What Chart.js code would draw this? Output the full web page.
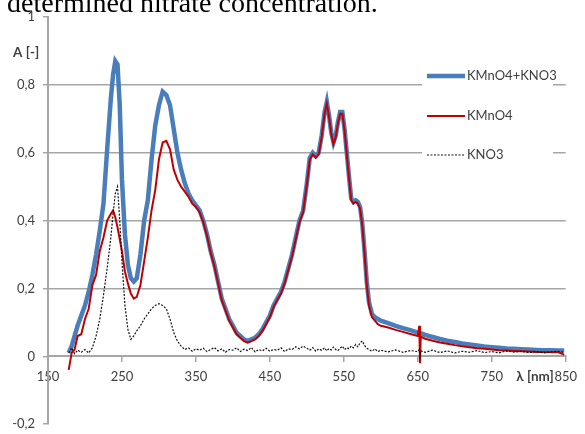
<!DOCTYPE html>
<html>
<head>
<meta charset="utf-8">
<script src="https://cdn.jsdelivr.net/npm/chart.js"></script>
<style>
  html, body { margin:0; padding:0; background:#fff; overflow:hidden; width:585px; height:434px; }
  #wrap { position:relative; width:585px; height:440px; }
  #hdr { position:absolute; left:7px; top:-11px; font-family:"Liberation Serif", serif; font-size:28px; line-height:28px; color:#000; white-space:nowrap; z-index:2; }
  canvas { position:absolute; left:0; top:0; }
</style>
</head>
<body>
<div id="wrap">
  <div id="hdr">determined nitrate concentration.</div>
  <canvas id="c" width="585" height="440"></canvas>
</div>
<script>
// ---- data ----
const seriesNames = ["KMnO4+KNO3", "KMnO4", "KNO3"];
const yTickLabels = ["-0,2", "0", "0,2", "0,4", "0,6", "0,8", "1"];
const xTickLabels = ["150", "250", "350", "450", "550", "650", "750", "850"];
const yTitle = "A [-]";
const xTitle = "λ [nm]";

const wavelengths = [
  178, 182, 186, 190, 195, 200, 205, 210, 215, 220,
  225, 230, 235, 238, 241, 244, 247, 250, 254, 258,
  262, 266, 270, 275, 280, 285, 290, 295, 300, 305,
  310, 315, 320, 325, 330, 335, 340, 345, 350, 355,
  360, 365, 370, 375, 380, 385, 390, 395, 400, 405,
  410, 415, 420, 425, 430, 435, 440, 445, 450, 455,
  460, 465, 470, 475, 480, 485, 490, 495, 500, 504,
  508, 512, 516, 520, 524, 527, 530, 533, 536, 539,
  542, 545, 548, 551, 554, 557, 560, 563, 566, 569,
  572, 575, 578, 581, 584, 588, 592, 596, 600, 610,
  620, 630, 640, 650, 652, 653, 654, 660, 670, 680,
  690, 700, 710, 720, 730, 740, 750, 760, 770, 780,
  790, 800, 810, 820, 830, 840, 848
];

const mixValues = [
  0.01, 0.03, 0.06, 0.09, 0.12, 0.15, 0.19, 0.24, 0.30, 0.37,
  0.45, 0.61, 0.76, 0.83, 0.87, 0.86, 0.74, 0.52, 0.36, 0.27,
  0.23, 0.22, 0.23, 0.30, 0.40, 0.46, 0.58, 0.68, 0.74, 0.78,
  0.77, 0.74, 0.67, 0.60, 0.55, 0.51, 0.48, 0.46, 0.445, 0.43,
  0.40, 0.36, 0.31, 0.27, 0.22, 0.17, 0.14, 0.11, 0.09, 0.07,
  0.06, 0.05, 0.045, 0.05, 0.055, 0.065, 0.08, 0.10, 0.12, 0.15,
  0.17, 0.19, 0.22, 0.26, 0.30, 0.35, 0.40, 0.43, 0.51, 0.585,
  0.60, 0.59, 0.60, 0.65, 0.72, 0.75, 0.71, 0.66, 0.63, 0.65,
  0.69, 0.72, 0.72, 0.67, 0.60, 0.53, 0.465, 0.455, 0.46, 0.455,
  0.44, 0.39, 0.31, 0.22, 0.16, 0.125, 0.115, 0.11, 0.105, 0.098,
  0.09, 0.083, 0.077, 0.07, 0.069, 0.069, 0.068, 0.063, 0.057, 0.051,
  0.046, 0.042, 0.038, 0.035, 0.032, 0.029, 0.027, 0.025, 0.023, 0.022,
  0.021, 0.02, 0.019, 0.018, 0.018, 0.017, 0.017
];

const kmno4Values = [
  -0.04, 0.01, 0.02, 0.06, 0.065, 0.11, 0.14, 0.21, 0.24, 0.31,
  0.35, 0.40, 0.42, 0.43, 0.41, 0.38, 0.345, 0.31, 0.25, 0.215,
  0.185, 0.17, 0.175, 0.21, 0.28, 0.35, 0.43, 0.49, 0.58, 0.63,
  0.635, 0.61, 0.55, 0.52, 0.50, 0.485, 0.47, 0.45, 0.44, 0.425,
  0.395, 0.355, 0.305, 0.265, 0.215, 0.165, 0.135, 0.105, 0.085, 0.065,
  0.055, 0.045, 0.04, 0.045, 0.05, 0.06, 0.075, 0.095, 0.115, 0.145,
  0.165, 0.185, 0.215, 0.255, 0.295, 0.345, 0.395, 0.425, 0.505, 0.58,
  0.595, 0.585, 0.595, 0.645, 0.715, 0.745, 0.705, 0.655, 0.625, 0.645,
  0.685, 0.715, 0.715, 0.665, 0.595, 0.525, 0.46, 0.45, 0.455, 0.45,
  0.435, 0.385, 0.305, 0.21, 0.15, 0.115, 0.105, 0.095, 0.09, 0.085,
  0.078, 0.072, 0.066, 0.06, 0.09, -0.02, 0.058, 0.052, 0.046, 0.041,
  0.037, 0.033, 0.03, 0.027, 0.024, 0.022, 0.02, 0.018, 0.017, 0.016,
  0.015, 0.014, 0.013, 0.013, 0.012, 0.012, 0.005
];

const kno3Values = [
  0.01, 0.025, 0.008, 0.018, 0.012, 0.02, 0.01, 0.025, 0.06, 0.11,
  0.18, 0.26, 0.35, 0.42, 0.48, 0.50, 0.40, 0.28, 0.15, 0.08,
  0.05, 0.06, 0.075, 0.09, 0.11, 0.125, 0.14, 0.15, 0.155, 0.15,
  0.14, 0.11, 0.07, 0.045, 0.03, 0.02, 0.025, 0.015, 0.022, 0.018,
  0.024, 0.014, 0.02, 0.026, 0.016, 0.022, 0.012, 0.02, 0.018, 0.025,
  0.014, 0.021, 0.017, 0.026, 0.013, 0.02, 0.016, 0.024, 0.015, 0.02,
  0.018, 0.025, 0.014, 0.022, 0.02, 0.028, 0.022, 0.03, 0.024, 0.018,
  0.026, 0.015, 0.022, 0.018, 0.025, 0.016, 0.023, 0.019, 0.027, 0.02,
  0.017, 0.024, 0.03, 0.02, 0.026, 0.022, 0.03, 0.025, 0.035, 0.028,
  0.04, 0.045, 0.032, 0.024, 0.02, 0.015, 0.022, 0.014, 0.018, 0.013,
  0.019, 0.012, 0.017, 0.014, 0.02, 0.0, 0.016, 0.012, 0.018, 0.011,
  0.016, 0.01, 0.015, 0.012, 0.017, 0.011, 0.014, 0.01, 0.016, 0.012,
  0.015, 0.011, 0.014, 0.01, 0.013, 0.015, 0.012
];

// ---- chart ----
const toXY = vals => wavelengths.map((w, i) => ({ x: w, y: vals[i] }));
const AXIS = '#a6a6a6';
const TXT = '#404040';
const FONT = 'Lato, "Open Sans", sans-serif';

const styles = [
  { color: '#4a7ebb', width: 4.5, dash: [], order: 3 },
  { color: '#c00000', width: 2, dash: [], order: 2 },
  { color: '#111111', width: 1.2, dash: [2, 1.5], order: 1 }
];
const seriesValues = [mixValues, kmno4Values, kno3Values];

const datasets = seriesNames.map((name, i) => ({
  label: name,
  data: toXY(seriesValues[i]),
  borderColor: styles[i].color,
  borderWidth: styles[i].width,
  borderDash: styles[i].dash,
  order: styles[i].order,
  pointRadius: 0,
  tension: 0,
  fill: false
}));

const overlay = {
  id: 'overlay',
  afterDraw(chart) {
    const { ctx, scales: { x, y } } = chart;
    ctx.save();
    ctx.fillStyle = TXT;
    ctx.font = 'bold 13.5px ' + FONT;
    ctx.textBaseline = 'middle';
    ctx.textAlign = 'left';
    ctx.fillText(yTitle, 13, 53);
    ctx.textAlign = 'right';
    ctx.fillText(xTitle, x.getPixelForValue(850) - 12, y.getPixelForValue(0) + 20);
    // legend box
    ctx.fillStyle = '#fff';
    ctx.fillRect(422, 60, 131, 108);
    const rows = [76, 116, 155];
    ctx.font = '13px ' + FONT;
    ctx.textAlign = 'left';
    seriesNames.forEach((name, i) => {
      const st = styles[i];
      ctx.beginPath();
      ctx.strokeStyle = st.color;
      ctx.lineWidth = i === 2 ? 1 : st.width;
      ctx.setLineDash(st.dash);
      ctx.moveTo(427, rows[i]);
      ctx.lineTo(465, rows[i]);
      ctx.stroke();
      ctx.setLineDash([]);
      ctx.fillStyle = TXT;
      ctx.fillText(name, 467, rows[i]);
    });
    ctx.restore();
  }
};

new Chart(document.getElementById('c'), {
  type: 'line',
  data: { datasets },
  options: {
    responsive: false,
    animation: false,
    layout: { padding: { left: 0, top: 17, right: 12, bottom: 10 } },
    plugins: { legend: { display: false }, tooltip: { enabled: false } },
    scales: {
      x: {
        type: 'linear',
        position: { y: 0 },
        min: 150, max: 850,
        afterBuildTicks: s => { s.ticks = xTickLabels.map(v => ({ value: Number(v) })); },
        ticks: {
          color: TXT, font: { family: FONT, size: 13 }, padding: 8,
          maxRotation: 0, autoSkip: false,
          callback: (v) => xTickLabels.find(t => Number(t) === v) || ''
        },
        grid: { drawOnChartArea: false, drawTicks: true, tickLength: 5, color: AXIS, lineWidth: 1.5 },
        border: { color: AXIS, width: 2 }
      },
      y: {
        type: 'linear',
        min: -0.2, max: 1,
        afterBuildTicks: s => { s.ticks = yTickLabels.map(v => ({ value: Number(v.replace(',', '.')) })); },
        afterFit: s => { s.width = 48; },
        ticks: {
          color: TXT, font: { family: FONT, size: 13 }, padding: 8,
          callback: (v) => yTickLabels.find(t => Math.abs(Number(t.replace(',', '.')) - v) < 1e-6) || ''
        },
        grid: {
          color: c => (c.tick && c.tick.value > 0.05 && c.tick.value < 0.95) ? AXIS : 'rgba(0,0,0,0)',
          tickColor: AXIS, tickLength: 5, lineWidth: 1.5
        },
        border: { color: AXIS, width: 2 }
      }
    }
  },
  plugins: [overlay]
});
</script>
</body>
</html>
